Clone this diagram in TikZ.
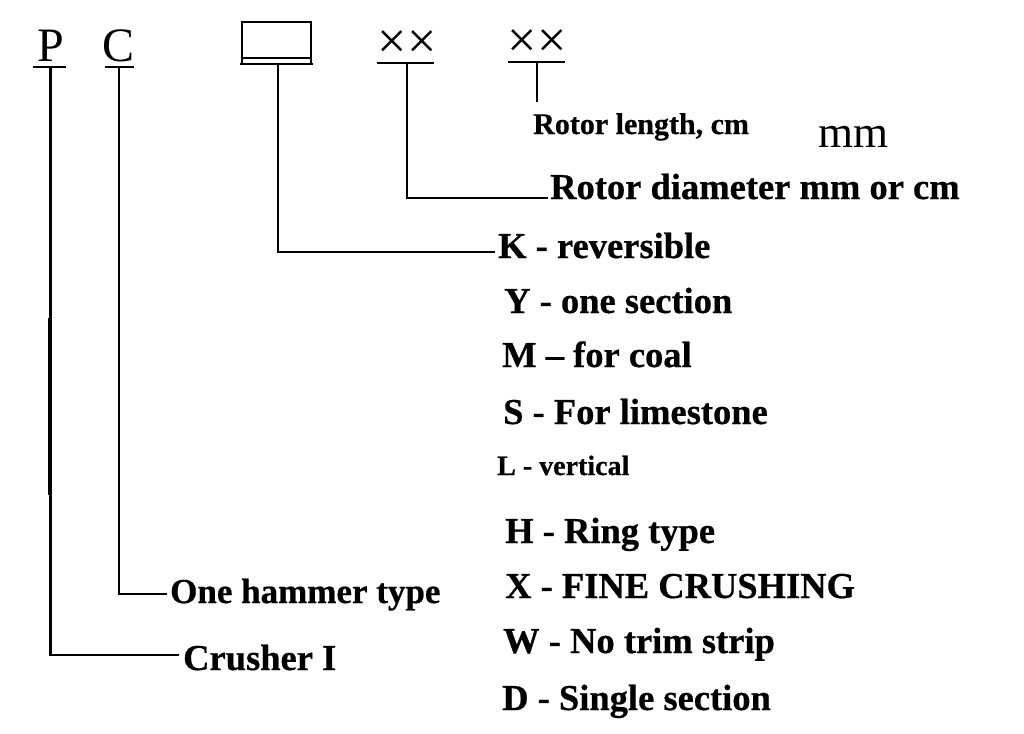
\documentclass[tikz,border=0pt]{standalone}
\usepackage{fontspec}
\setmainfont[BoldFeatures={FakeBold=0.6}]{Liberation Serif}
\usetikzlibrary{calc}

\begin{document}
\begin{tikzpicture}[x=1pt, y=-1pt,
    code/.style={inner sep=0pt, anchor=base, font=\fontsize{48}{50}\selectfont},
    lab/.style={inner sep=0pt, anchor=base west, font=\bfseries\fontsize{36.5}{40}\selectfont},
    smalllab/.style={lab, font=\bfseries\fontsize{30}{34}\selectfont},
    bar/.style={line width=2.6pt},
    lead/.style={line width=2.4pt}]
  \useasboundingbox (0,0) rectangle (1024,733);

  % code letters
  \node[code] (p) at (51,62) {P};
  \node[code] (c) at (119,62) {C};
  \node[code, font=\fontsize{52}{54}\selectfont] (xa) at (407,59) {××};
  \node[code, font=\fontsize{52}{54}\selectfont] (xb) at (537,58) {××};
  \node[code, font=\fontsize{45}{48}\selectfont, anchor=base west] (mm) at (818,147) {mm};

  % bars under the codes
  \coordinate (pfoot) at (50.5,67);
  \coordinate (cfoot) at (119,67);
  \coordinate (boxfoot) at (278,64);
  \coordinate (xafoot) at (407,63);
  \coordinate (xbfoot) at (537,62);
  \coordinate (xbend) at (537,102);
  \draw[bar] (33,67) -- (66,67);
  \draw[bar] (105,67) -- (134,67);
  \draw[bar] (242,22) rectangle (311,58);
  \draw[bar] (240,64) -- (313,64) (242,58) -- (242,64) (311,58) -- (311,64);
  \draw[bar] (377,63) -- (434,63);
  \draw[bar] (508,62) -- (565,62);

  % labels
  \node[smalllab] (len) at (533,134) {Rotor length, cm};
  \node[lab] (diam) at (550,199) {Rotor diameter mm or cm};
  \node[lab] (rev) at (498,258) {K - reversible};
  \node[lab] (sec) at (504,313) {Y - one section};
  \node[lab] (coal) at (502,367) {M – for coal};
  \node[lab] (lime) at (503,424) {S - For limestone};
  \node[smalllab, font=\bfseries\fontsize{28}{32}\selectfont] (vert) at (497,475) {L - vertical};
  \node[lab] (ring) at (505,543) {H - Ring type};
  \node[lab] (fine) at (505,598) {X - FINE CRUSHING};
  \node[lab] (trim) at (503,653) {W - No trim strip};
  \node[lab] (single) at (502,710) {D - Single section};
  \node[lab, font=\bfseries\fontsize{35}{38}\selectfont] (hammer) at (170,603) {One hammer type};
  \node[lab] (crusher) at (183,670) {Crusher I};

  % leaders
  \draw[lead] (pfoot) |- ([yshift=15pt, xshift=-4pt]crusher.base west);
  \draw[line width=1.6pt] (48.3,318) -- (48.3,495);
  \draw[lead] (cfoot) |- ([yshift=9pt, xshift=-3pt]hammer.base west);
  \draw[lead] (boxfoot) |- ([yshift=6pt, xshift=-3pt]rev.base west);
  \draw[lead] (xafoot) |- ([yshift=1pt, xshift=-2pt]diam.base west);
  \draw[lead] (xbfoot) -- (xbend);
\end{tikzpicture}
\end{document}
